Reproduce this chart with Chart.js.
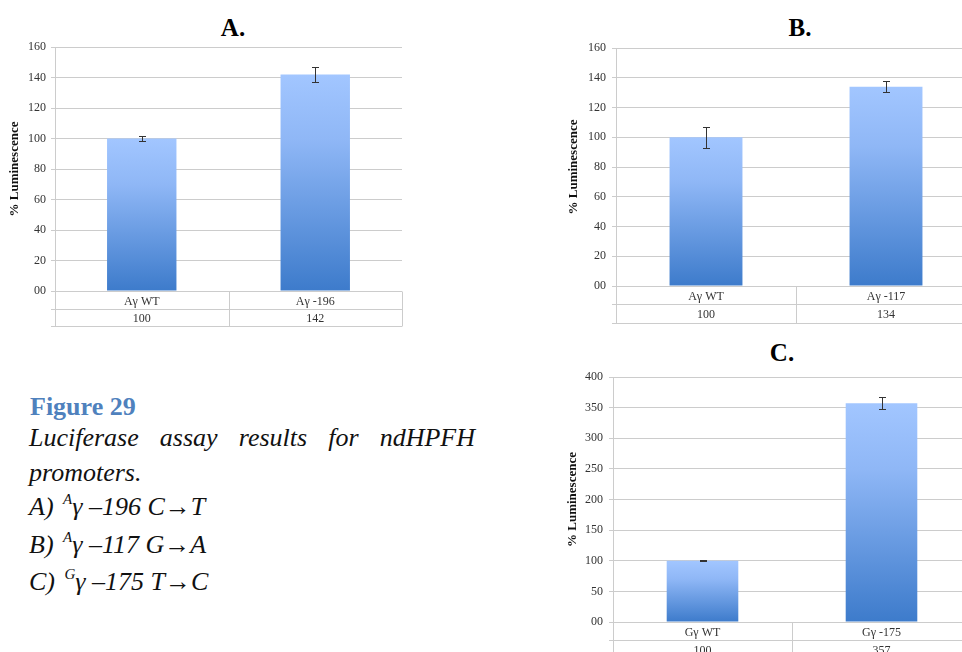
<!DOCTYPE html>
<html><head><meta charset="utf-8">
<script src="https://cdn.jsdelivr.net/npm/chart.js@4"></script>
<style>
html,body{margin:0;padding:0;background:#fff;width:962px;height:652px;overflow:hidden;position:relative;}
canvas{position:absolute;}
.ptitle{position:absolute;font:bold 25px "Liberation Serif","Times New Roman",serif;color:#000;line-height:25px;transform:translateX(-50%);white-space:nowrap;}
#fig{position:absolute;left:30px;top:390px;font:bold 26px "Liberation Serif","Times New Roman",serif;color:#4F81BD;line-height:34px;}
#cap{position:absolute;left:29px;top:421px;width:446px;font:italic 26px "Liberation Serif","Times New Roman",serif;color:#111;line-height:34.5px;}
#cap .j{text-align:justify;text-align-last:justify;}
#cap sup{font-size:15px;vertical-align:0;position:relative;top:-11px;margin-left:3px;}
</style></head>
<body>
<div class="ptitle" style="left:233px;top:15px">A.</div>
<div class="ptitle" style="left:800px;top:15px">B.</div>
<div class="ptitle" style="left:782px;top:340px">C.</div>
<div id="fig">Figure 29</div>
<div id="cap"><div class="j">Luciferase assay results for ndHPFH</div><div>promoters.</div><div>A) <sup>A</sup>γ –196 C→T</div><div>B) <sup>A</sup>γ –117 G→A</div><div>C) <sup>G</sup>γ –175 T→C</div></div>

<canvas id="cA" width="420" height="340" style="left:0px;top:0px;width:420px;height:340px"></canvas>
<canvas id="cB" width="440" height="340" style="left:550px;top:0px;width:440px;height:340px"></canvas>
<canvas id="cC" width="440" height="340" style="left:550px;top:330px;width:440px;height:340px"></canvas>

<script>
const categoriesA = ['Aγ WT', 'Aγ -196'];
const valuesA = [100, 142];
const errorsA = [1.5, 5];

const categoriesB = ['Aγ WT', 'Aγ -117'];
const valuesB = [100, 134];
const errorsB = [7, 3.5];

const categoriesC = ['Gγ WT', 'Gγ -175'];
const valuesC = [100, 357];
const errorsC = [0.5, 10];

const yTitle = '% Luminescence';

const GRID = '#cccccc';
const SERIF = "'Liberation Serif', 'Times New Roman', serif";

function barGradient(ctx) {
  const chart = ctx.chart;
  const ca = chart.chartArea;
  if (!ca || ctx.type !== 'data') return '#6c9de6';
  const y = chart.scales.y;
  const top = y.getPixelForValue(ctx.raw);
  const bot = y.getPixelForValue(0);
  const g = chart.ctx.createLinearGradient(0, top, 0, bot);
  g.addColorStop(0, '#a2c6ff');
  g.addColorStop(0.3, '#8fb7f6');
  g.addColorStop(1, '#3d7bcb');
  return g;
}

const errorBarPlugin = {
  id: 'errbars',
  afterDatasetsDraw(chart, args, opts) {
    const errs = opts.errors || [];
    const vals = chart.data.datasets[0].data;
    const x = chart.scales.x, y = chart.scales.y, c = chart.ctx;
    c.save();
    c.strokeStyle = '#333';
    c.lineWidth = 1;
    vals.forEach((v, i) => {
      const e = errs[i]; if (e == null) return;
      const px = Math.round(x.getPixelForValue(i)) + 0.5;
      const t = Math.round(y.getPixelForValue(v + e)) + 0.5;
      const b = Math.round(y.getPixelForValue(v - e)) + 0.5;
      c.beginPath();
      c.moveTo(px, t); c.lineTo(px, b);
      c.moveTo(px - 3.5, t); c.lineTo(px + 3.5, t);
      c.moveTo(px - 3.5, b); c.lineTo(px + 3.5, b);
      c.stroke();
    });
    c.restore();
  }
};

const tablePlugin = {
  id: 'datatable',
  afterDraw(chart, args, opts) {
    const ca = chart.chartArea, c = chart.ctx, x = chart.scales.x;
    const labels = chart.data.labels;
    const vals = chart.data.datasets[0].data;
    const r1 = opts.row1 || 18, r2 = opts.row2 || 17;
    const y0 = Math.round(ca.bottom) + 0.5;
    const y1 = y0 + r1, y2 = y1 + r2;
    const n = labels.length;
    const cw = (ca.right - ca.left) / n;
    c.save();
    c.strokeStyle = GRID;
    c.lineWidth = 1;
    c.beginPath();
    c.moveTo(ca.left - 4, y1); c.lineTo(ca.right, y1);
    c.moveTo(ca.left - 4, y2); c.lineTo(ca.right, y2);
    for (let i = 0; i <= n; i++) {
      const xx = Math.round(ca.left + i * cw) + 0.5;
      c.moveTo(xx, y0); c.lineTo(xx, y2);
    }
    c.stroke();
    c.fillStyle = '#333';
    c.font = '12px ' + SERIF;
    c.textAlign = 'center';
    c.textBaseline = 'middle';
    labels.forEach((l, i) => {
      const px = x.getPixelForValue(i);
      c.fillText(l, px, y0 + r1 / 2 + 1);
      c.fillText(String(vals[i]), px, y1 + r2 / 2 + 1);
    });
    c.restore();
  }
};

function makeChart(id, cats, vals, errs, cfg) {
  return new Chart(document.getElementById(id), {
    type: 'bar',
    data: {
      labels: cats,
      datasets: [{
        data: vals,
        backgroundColor: barGradient,
        borderWidth: 0,
        categoryPercentage: 1,
        barPercentage: cfg.barPct
      }]
    },
    plugins: [errorBarPlugin, tablePlugin],
    options: {
      responsive: false,
      animation: false,
      devicePixelRatio: 1,
      layout: { padding: cfg.padding },
      plugins: {
        legend: { display: false },
        tooltip: { enabled: false },
        errbars: { errors: errs },
        datatable: { row1: cfg.row1, row2: cfg.row2 }
      },
      scales: {
        x: { display: false, offset: true },
        y: {
          min: 0, max: cfg.max,
          afterFit: s => { s.width = cfg.yWidth; },
          ticks: {
            stepSize: cfg.step,
            padding: cfg.tickPad,
            color: '#333',
            font: { family: SERIF, size: 12 },
            callback: v => v === 0 ? '00' : String(v)
          },
          grid: { color: GRID, tickLength: 4, drawTicks: true },
          border: { color: GRID },
          title: {
            display: true, text: yTitle, color: '#111',
            font: { family: SERIF, size: 13, weight: 'bold' },
            padding: { top: 2, bottom: 0 }
          }
        }
      }
    }
  });
}

makeChart('cA', categoriesA, valuesA, errorsA, {
  padding: { left: 5, right: 18, top: 47, bottom: 49 },
  yWidth: 50, tickPad: 5, max: 160, step: 20, barPct: 0.40, row1: 18, row2: 17
});
makeChart('cB', categoriesB, valuesB, errorsB, {
  padding: { left: 14, right: 14, top: 48, bottom: 54 },
  yWidth: 52, tickPad: 6, max: 160, step: 20, barPct: 0.405, row1: 18, row2: 19
});
makeChart('cC', categoriesC, valuesC, errorsC, {
  padding: { left: 13, right: 19, top: 47, bottom: 48 },
  yWidth: 50, tickPad: 6, max: 400, step: 50, barPct: 0.40, row1: 18, row2: 18
});
</script>
</body></html>
